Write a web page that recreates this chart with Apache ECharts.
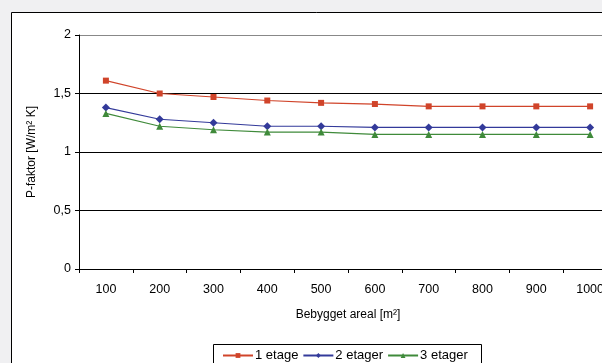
<!DOCTYPE html>
<html><head><meta charset="utf-8">
<script src="https://cdn.jsdelivr.net/npm/echarts@6/dist/echarts.min.js"></script>
<style>html,body{margin:0;padding:0;background:#f0f0f2;overflow:hidden;width:602px;height:363px;}#c{width:620px;height:363px;}</style>
</head><body><div id="c"></div>
<script>
const categories = ['100','200','300','400','500','600','700','800','900','1000'];
const etage1 = [1.61,1.50,1.47,1.44,1.42,1.41,1.39,1.39,1.39,1.39];
const etage2 = [1.38,1.28,1.25,1.22,1.22,1.21,1.21,1.21,1.21,1.21];
const etage3 = [1.33,1.22,1.19,1.17,1.17,1.15,1.15,1.15,1.15,1.15];
const seriesNames = ['1 etage','2 etager','3 etager'];
const colors = ['#d0442a','#333a9a','#3f8a3a'];
const font = 'Liberation Sans, Arial, sans-serif';
const chart = echarts.init(document.getElementById('c'));
chart.setOption({
  animation:false,
  backgroundColor:'transparent',
  graphic:[
    {type:'rect',z:-10,shape:{x:11.5,y:12.5,width:620,height:400},style:{fill:'#fff',stroke:'#000',lineWidth:1}},
    {type:'rect',z:-5,shape:{x:213.5,y:344.5,width:268,height:30},style:{fill:'#fff',stroke:'#000',lineWidth:1}}
  ],
  grid:{left:79,top:35,width:538,height:234,containLabel:false},
  legend:{
    bottom:-4,left:217,itemGap:4,itemWidth:30,itemHeight:6,
    textStyle:{fontFamily:font,fontSize:13,color:'#000',padding:[0,0,0,-3]},
    data:seriesNames
  },
  xAxis:{
    type:'category',data:categories,boundaryGap:true,
    name:'Bebygget areal [m²]',nameLocation:'middle',nameGap:40,
    nameTextStyle:{fontFamily:font,fontSize:12,color:'#000'},
    axisLine:{lineStyle:{color:'#000',width:1}},
    axisTick:{show:true,inside:false,length:4,lineStyle:{color:'#000'},alignWithLabel:false},
    axisLabel:{fontFamily:font,fontSize:12.5,color:'#000',margin:14}
  },
  yAxis:{
    type:'value',min:0,max:2,interval:0.5,
    name:'P-faktor [W/m² K]',nameLocation:'middle',nameGap:41,nameRotate:90,
    nameTextStyle:{fontFamily:font,fontSize:12,color:'#000'},
    axisLine:{show:true,lineStyle:{color:'#000',width:1}},
    axisTick:{show:true,length:4,lineStyle:{color:'#000'}},
    axisLabel:{fontFamily:font,fontSize:12.5,color:'#000',margin:8,formatter:v=>String(v).replace('.',',')},
    splitLine:{show:true,lineStyle:{color:['#000','#000','#000','#000','#888'],width:1}}
  },
  series:[
    {name:seriesNames[0],type:'line',data:etage1,symbol:'rect',symbolSize:6,itemStyle:{color:colors[0]},lineStyle:{color:colors[0],width:1.2}},
    {name:seriesNames[1],type:'line',data:etage2,symbol:'diamond',symbolSize:8,itemStyle:{color:colors[1]},lineStyle:{color:colors[1],width:1.2}},
    {name:seriesNames[2],type:'line',data:etage3,symbol:'triangle',symbolSize:7,itemStyle:{color:colors[2]},lineStyle:{color:colors[2],width:1.2}}
  ]
});
</script></body></html>
